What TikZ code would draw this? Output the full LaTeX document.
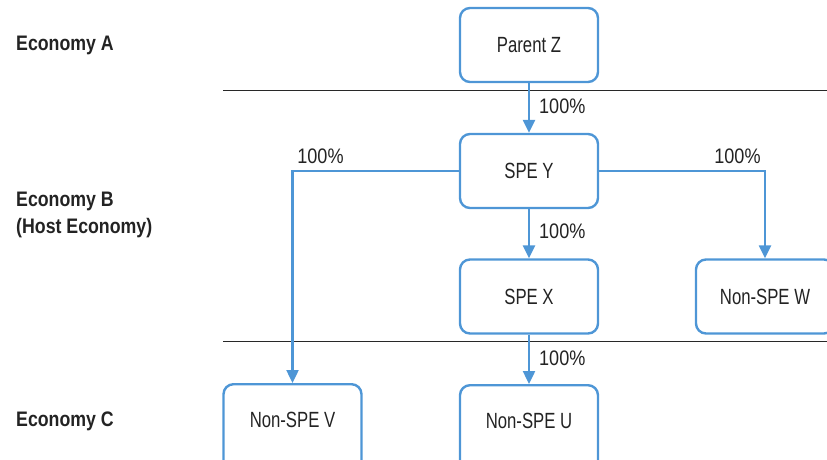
\documentclass[tikz,border=0pt]{standalone}
\usepackage{fontspec}
\setmainfont{Liberation Sans}[FakeStretch=0.76]
\newfontfamily\labelfont{Liberation Sans}[FakeStretch=0.86]
\newfontfamily\ecofont{Liberation Sans}[FakeStretch=0.845]
\usetikzlibrary{arrows.meta}
\definecolor{boxblue}{RGB}{78,150,214}
\definecolor{rulegray}{RGB}{40,40,40}
\definecolor{textgray}{RGB}{35,35,35}
\tikzset{
  entity/.style={draw=boxblue, line width=2.4pt, rounded corners=10pt,
    minimum width=138pt, minimum height=74pt, inner sep=0pt,
    font=\fontsize{22}{26}\selectfont, text=textgray},
  entitytext/.style={font=\fontsize{22}{26}\selectfont, text=textgray, inner sep=0pt},
  link/.style={draw=boxblue, line width=2.4pt,
    -{Triangle[length=13pt,width=12pt]}},
  pct/.style={font=\labelfont\fontsize{21}{24}\selectfont, text=textgray, inner sep=0pt},
  economy/.style={font=\ecofont\bfseries\fontsize{21}{27}\selectfont, text=textgray,
    anchor=west, align=left, inner sep=0pt},
  divider/.style={draw=rulegray, line width=1.8pt}
}
\begin{document}
\begin{tikzpicture}[x=1pt,y=-1pt]
\useasboundingbox (0,0) rectangle (827,459);

% economy boundaries
\coordinate (ruleAL) at (223,90.5);
\coordinate (ruleAR) at (827,90.5);
\coordinate (ruleBL) at (223,341.5);
\coordinate (ruleBR) at (827,341.5);
\draw[divider] (ruleAL) -- (ruleAR);
\draw[divider] (ruleBL) -- (ruleBR);

% economy captions
\node[economy] (ecoA) at (16,45) {Economy A};
\node[economy] (ecoB) at (16,214.5) {Economy B\\(Host Economy)};
\node[economy] (ecoC) at (16,421) {Economy C};

% entities
\node[entity] (Z) at (529,45) {Parent Z};
\node[entity] (Y) at (529,171) {SPE Y};
\node[entity] (X) at (529,296.5) {SPE X};
\node[entity] (W) at (765,296.5) {Non-SPE W};
% the lowest boxes run past the lower edge of the page
\node[entity, minimum height=96pt, anchor=north] (V) at (292.5,383) {};
\node[entitytext] (Vtext) at (292.5,420) {Non-SPE V};
\node[entity, minimum height=96pt, anchor=north] (U) at (529,384) {};
\node[entitytext] (Utext) at (529,421) {Non-SPE U};

% ownership links
\draw[link] (Z) -- (Y);
\draw[link] (Y) -- (X);
\draw[link] (X) -- (U);
\draw[link] (Y.west) -| (V.north);
\draw[link] (Y.east) -| (W.north);

% ownership shares
\node[pct, anchor=west] (pZY) at (539,106) {100\%};
\node[pct, anchor=west] (pYX) at (539,231) {100\%};
\node[pct, anchor=west] (pXU) at (539,358) {100\%};
\node[pct] (pYV) at (320.5,156) {100\%};
\node[pct] (pYW) at (737.5,156) {100\%};
\end{tikzpicture}
\end{document}
